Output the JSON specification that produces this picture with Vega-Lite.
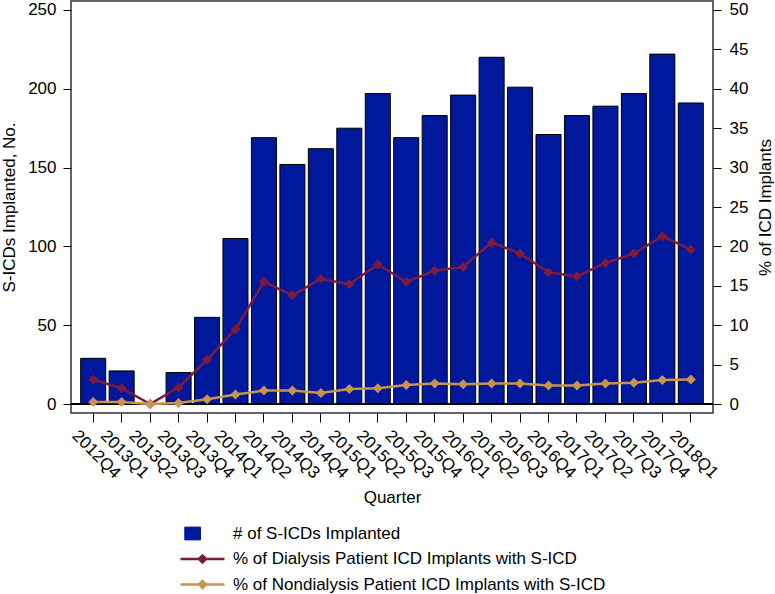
{
  "$schema": "https://vega.github.io/schema/vega-lite/v6.json",
  "width": 642,
  "height": 412,
  "autosize": "none",
  "padding": {"left": 71, "top": 1, "right": 62, "bottom": 181},
  "background": "white",
  "config": {
    "font": "Liberation Sans",
    "view": {"stroke": "#333", "strokeWidth": 1.5},
    "axis": {
      "domain": false,
      "grid": false,
      "tickColor": "#000",
      "tickWidth": 1,
      "labelColor": "#000",
      "titleColor": "#000",
      "labelFont": "Liberation Sans",
      "titleFont": "Liberation Sans",
      "labelFontSize": 17,
      "titleFontSize": 17,
      "titleFontWeight": "normal"
    }
  },
  "data": {
    "values": [
      {"q": "2012Q4", "n": 29, "dial": 3.1, "nondial": 0.25},
      {"q": "2013Q1", "n": 21, "dial": 2.0, "nondial": 0.25},
      {"q": "2013Q2", "n": 0, "dial": 0.0, "nondial": 0.0},
      {"q": "2013Q3", "n": 20, "dial": 2.1, "nondial": 0.13},
      {"q": "2013Q4", "n": 55, "dial": 5.6, "nondial": 0.6},
      {"q": "2014Q1", "n": 105, "dial": 9.5, "nondial": 1.2},
      {"q": "2014Q2", "n": 169, "dial": 15.5, "nondial": 1.7},
      {"q": "2014Q3", "n": 152, "dial": 13.8, "nondial": 1.7},
      {"q": "2014Q4", "n": 162, "dial": 15.9, "nondial": 1.4},
      {"q": "2015Q1", "n": 175, "dial": 15.2, "nondial": 1.9},
      {"q": "2015Q2", "n": 197, "dial": 17.7, "nondial": 2.0},
      {"q": "2015Q3", "n": 169, "dial": 15.5, "nondial": 2.4},
      {"q": "2015Q4", "n": 183, "dial": 16.9, "nondial": 2.6},
      {"q": "2016Q1", "n": 196, "dial": 17.4, "nondial": 2.5},
      {"q": "2016Q2", "n": 220, "dial": 20.5, "nondial": 2.6},
      {"q": "2016Q3", "n": 201, "dial": 19.1, "nondial": 2.6},
      {"q": "2016Q4", "n": 171, "dial": 16.7, "nondial": 2.35},
      {"q": "2017Q1", "n": 183, "dial": 16.2, "nondial": 2.35},
      {"q": "2017Q2", "n": 189, "dial": 17.9, "nondial": 2.6},
      {"q": "2017Q3", "n": 197, "dial": 19.1, "nondial": 2.7},
      {"q": "2017Q4", "n": 222, "dial": 21.3, "nondial": 3.05},
      {"q": "2018Q1", "n": 191, "dial": 19.6, "nondial": 3.1}
    ]
  },
  "layer": [
    {
      "layer": [
        {
          "mark": {"type": "bar", "stroke": "#000", "strokeWidth": 1},
          "encoding": {
            "x": {
              "field": "q", "type": "ordinal", "sort": null,
              "scale": {"paddingInner": 0.12, "paddingOuter": 0.34},
              "axis": {
                "title": "Quarter",
                "labelAngle": 45,
                "labelAlign": "center",
                "labelBaseline": "middle",
                "labelPadding": 32,
                "labelOffset": 3,
                "tickSize": 9,
                "titleY": 84,
                "titleBaseline": "middle"
              }
            },
            "y": {
              "field": "n", "type": "quantitative",
              "scale": {"domain": [-5.7, 255.7], "nice": false, "zero": false},
              "axis": {
                "title": "S-ICDs Implanted, No.",
                "values": [0, 50, 100, 150, 200, 250],
                "tickSize": 8,
                "labelPadding": 7,
                "titleX": -62,
                "titleY": 206,
                "titleAngle": 270,
                "titleAlign": "center",
                "titleBaseline": "middle"
              }
            },
            "color": {
              "datum": "# of S-ICDs Implanted",
              "type": "nominal",
              "scale": {
                "domain": ["# of S-ICDs Implanted", "% of Dialysis Patient ICD Implants with S-ICD", "% of Nondialysis Patient ICD Implants with S-ICD"],
                "range": ["#00189b", "#7b1c3f", "#c8934f"]
              },
              "legend": {
                "title": null,
                "orient": "none",
                "legendX": 123,
                "legendY": 524,
                "padding": 0,
                "symbolSize": 400,
                "symbolType": "M-2.2,0H2.2M-0.35,0L0,-0.35L0.35,0L0,0.35Z",
                "labelFont": "Liberation Sans",
                "labelFontSize": 17,
                "labelColor": "#000",
                "labelLimit": 800,
                "labelOffset": 22,
                "rowPadding": 7.5,
                "encode": {
                  "symbols": {
                    "update": {
                      "shape": {"signal": "datum.value == '# of S-ICDs Implanted' ? 'M-1.77,-0.64H-0.2V0.64H-1.77Z' : 'M-2.2,0H2.2M-0.35,0L0,-0.35L0.35,0L0,0.35Z'"},
                      "fill": {"signal": "datum.value == '# of S-ICDs Implanted' ? '#00189b' : (datum.value == '% of Dialysis Patient ICD Implants with S-ICD' ? '#7b1c3f' : '#c8934f')"},
                      "stroke": {"signal": "datum.value == '# of S-ICDs Implanted' ? '#000' : (datum.value == '% of Dialysis Patient ICD Implants with S-ICD' ? '#7b1c3f' : '#c8934f')"},
                      "strokeWidth": {"signal": "datum.value == '# of S-ICDs Implanted' ? 1 : 2.5"}
                    }
                  }
                }
              }
            }
          }
        },
        {
          "mark": {"type": "rule", "color": "#000", "strokeWidth": 1},
          "encoding": {"y": {"datum": 0}}
        }
      ]
    },
    {
      "layer": [
        {
          "mark": {"type": "line", "strokeWidth": 2.5, "point": {"shape": "diamond", "size": 100, "filled": true, "opacity": 1}},
          "encoding": {
            "x": {"field": "q", "type": "ordinal", "sort": null},
            "y": {
              "field": "dial", "type": "quantitative",
              "scale": {"domain": [-1.142, 51.142], "nice": false, "zero": false},
              "axis": {
                "orient": "right",
                "title": "% of ICD Implants",
                "values": [0, 5, 10, 15, 20, 25, 30, 35, 40, 45, 50],
                "tickSize": 8,
                "labelPadding": 8,
                "titleX": 52,
                "titleY": 206,
                "titleAngle": 270,
                "titleAlign": "center",
                "titleBaseline": "middle"
              }
            },
            "color": {
              "datum": "% of Dialysis Patient ICD Implants with S-ICD", "type": "nominal",
              "legend": {
                "title": null,
                "orient": "none",
                "legendX": 123,
                "legendY": 524,
                "padding": 0,
                "symbolSize": 400,
                "symbolType": "M-2.2,0H2.2M-0.35,0L0,-0.35L0.35,0L0,0.35Z",
                "labelFont": "Liberation Sans",
                "labelFontSize": 17,
                "labelColor": "#000",
                "labelLimit": 800,
                "labelOffset": 22,
                "rowPadding": 7.5,
                "encode": {
                  "symbols": {
                    "update": {
                      "shape": {"signal": "datum.value == '# of S-ICDs Implanted' ? 'M-1.77,-0.64H-0.2V0.64H-1.77Z' : 'M-2.2,0H2.2M-0.35,0L0,-0.35L0.35,0L0,0.35Z'"},
                      "fill": {"signal": "datum.value == '# of S-ICDs Implanted' ? '#00189b' : (datum.value == '% of Dialysis Patient ICD Implants with S-ICD' ? '#7b1c3f' : '#c8934f')"},
                      "stroke": {"signal": "datum.value == '# of S-ICDs Implanted' ? '#000' : (datum.value == '% of Dialysis Patient ICD Implants with S-ICD' ? '#7b1c3f' : '#c8934f')"},
                      "strokeWidth": {"signal": "datum.value == '# of S-ICDs Implanted' ? 1 : 2.5"}
                    }
                  }
                }
              }
            }
          }
        },
        {
          "mark": {"type": "line", "strokeWidth": 2.5, "point": {"shape": "diamond", "size": 100, "filled": true, "opacity": 1}},
          "encoding": {
            "x": {"field": "q", "type": "ordinal", "sort": null},
            "y": {"field": "nondial", "type": "quantitative"},
            "color": {
              "datum": "% of Nondialysis Patient ICD Implants with S-ICD", "type": "nominal",
              "legend": {
                "title": null,
                "orient": "none",
                "legendX": 123,
                "legendY": 524,
                "padding": 0,
                "symbolSize": 400,
                "symbolType": "M-2.2,0H2.2M-0.35,0L0,-0.35L0.35,0L0,0.35Z",
                "labelFont": "Liberation Sans",
                "labelFontSize": 17,
                "labelColor": "#000",
                "labelLimit": 800,
                "labelOffset": 22,
                "rowPadding": 7.5,
                "encode": {
                  "symbols": {
                    "update": {
                      "shape": {"signal": "datum.value == '# of S-ICDs Implanted' ? 'M-1.77,-0.64H-0.2V0.64H-1.77Z' : 'M-2.2,0H2.2M-0.35,0L0,-0.35L0.35,0L0,0.35Z'"},
                      "fill": {"signal": "datum.value == '# of S-ICDs Implanted' ? '#00189b' : (datum.value == '% of Dialysis Patient ICD Implants with S-ICD' ? '#7b1c3f' : '#c8934f')"},
                      "stroke": {"signal": "datum.value == '# of S-ICDs Implanted' ? '#000' : (datum.value == '% of Dialysis Patient ICD Implants with S-ICD' ? '#7b1c3f' : '#c8934f')"},
                      "strokeWidth": {"signal": "datum.value == '# of S-ICDs Implanted' ? 1 : 2.5"}
                    }
                  }
                }
              }
            }
          }
        }
      ]
    }
  ],
  "resolve": {"scale": {"y": "independent"}}
}
